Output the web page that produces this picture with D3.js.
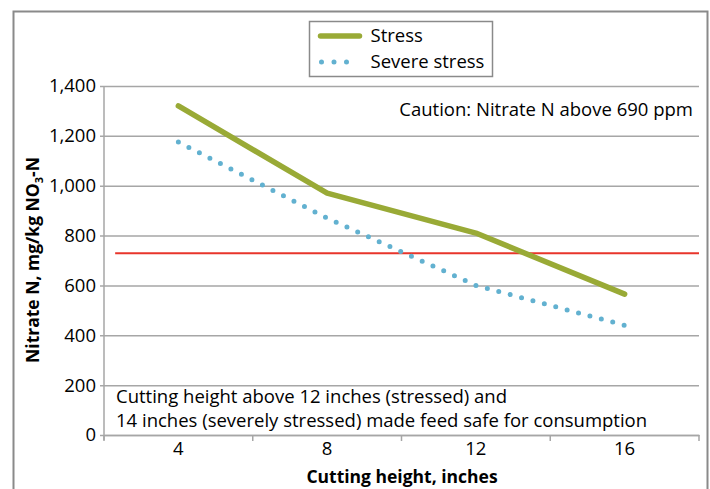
<!DOCTYPE html>
<html>
<head>
<meta charset="utf-8">
<script src="https://cdn.jsdelivr.net/npm/d3@7"></script>
<style>
  body { margin: 0; background: #fff; }
  svg text { font-family: "Open Sans", sans-serif; fill: #000; }
  .axis-label { font-weight: bold; font-size: 17.5px; }
  .tick text { font-size: 18.5px; }
</style>
</head>
<body>
<svg class="chart"></svg>
<script>
// data
const heights = ["4", "8", "12", "16"]
const stress = [1320, 970, 810, 565]
const severeStress = [1175, 870, 600, 440]
const cautionLevel = 729
const yTicks = [0, 200, 400, 600, 800, 1000, 1200, 1400]

const width = 710, height = 489
const margin = {top: 86, right: 11, bottom: 54, left: 104}
const plotW = width - margin.left - margin.right
const plotH = height - margin.top - margin.bottom

const svg = d3.select(".chart")
    .attr("width", width)
    .attr("height", height)

// outer frame (left, top, right)
svg.append("path")
    .attr("d", "M13.5,489 V11.5 H707.5 V489")
    .attr("fill", "none")
    .attr("stroke", "#8a8a8a")
    .attr("stroke-width", 2)

const xScale = d3.scaleBand()
    .domain(heights)
    .range([0, plotW])

const yScale = d3.scaleLinear()
    .domain([0, 1400])
    .range([plotH, 0])

const graph = svg.append("g")
    .attr("transform", `translate(${margin.left},${margin.top})`)

// y axis + gridlines
const yAxis = graph.append("g")
    .attr("class", "y axis")
    .call(d3.axisLeft(yScale)
        .tickValues(yTicks)
        .tickSize(-plotW)
        .tickPadding(8)
        .tickFormat(d3.format(",")))
yAxis.select(".domain").remove()
yAxis.selectAll(".tick line")
    .attr("x1", -4)
    .attr("stroke", "#a6a6a6")
    .attr("stroke-width", 1.5)

graph.append("line")
    .attr("x1", 0).attr("x2", 0)
    .attr("y1", yScale(1400)).attr("y2", plotH + 5)
    .attr("stroke", "#a6a6a6")
    .attr("stroke-width", 1.5)

// x axis
const xAxis = graph.append("g")
    .attr("class", "x axis")
    .attr("transform", `translate(0,${plotH})`)
    .call(d3.axisBottom(xScale).tickSize(0).tickPadding(7))
xAxis.select(".domain").attr("stroke", "#a6a6a6").attr("stroke-width", 1.5)

const bounds = heights.map(d => xScale(d)).concat([xScale.range()[1]])
xAxis.selectAll(".bound")
    .data(bounds)
    .join("line")
    .attr("class", "bound")
    .attr("x1", d => d).attr("x2", d => d)
    .attr("y1", 0).attr("y2", 6)
    .attr("stroke", "#a6a6a6")
    .attr("stroke-width", 1.5)

// caution threshold
graph.append("line")
    .attr("x1", xScale.bandwidth() * 0.075)
    .attr("x2", plotW)
    .attr("y1", yScale(cautionLevel))
    .attr("y2", yScale(cautionLevel))
    .attr("stroke", "#e8352b")
    .attr("stroke-width", 2)

const xc = d => xScale(d) + xScale.bandwidth() / 2
const line = d3.line()
    .x(d => xc(d.h))
    .y(d => yScale(d.v))

graph.append("path")
    .datum(heights.map((h, i) => ({h: h, v: severeStress[i]})))
    .attr("d", line)
    .attr("fill", "none")
    .attr("stroke", "#62b1d0")
    .attr("stroke-width", 5)
    .attr("stroke-linecap", "round")
    .attr("stroke-dasharray", "0,11.8")

graph.append("path")
    .datum(heights.map((h, i) => ({h: h, v: stress[i]})))
    .attr("d", line)
    .attr("fill", "none")
    .attr("stroke", "#99aa36")
    .attr("stroke-width", 5.5)
    .attr("stroke-linecap", "round")
    .attr("stroke-linejoin", "round")

// annotations
svg.append("text")
    .text("Caution: Nitrate N above 690 ppm")
    .attr("x", 693).attr("y", 116)
    .attr("text-anchor", "end")
    .style("font-size", "18.5px")

const note = svg.append("text")
    .attr("x", 116).attr("y", 403)
    .style("font-size", "18.5px")
note.append("tspan").text("Cutting height above 12 inches (stressed) and")
note.append("tspan").attr("x", 116).attr("dy", 24)
    .text("14 inches (severely stressed) made feed safe for consumption")

// axis titles
svg.append("text")
    .attr("class", "axis-label")
    .attr("text-anchor", "middle")
    .attr("x", 402).attr("y", 483)
    .text("Cutting height, inches")

const yTitle = svg.append("text")
    .attr("class", "axis-label")
    .attr("text-anchor", "middle")
    .attr("transform", "translate(39, 260) rotate(-90)")
yTitle.append("tspan").text("Nitrate N, mg/kg NO")
yTitle.append("tspan").text("3").attr("dy", 4).style("font-size", "11px")
yTitle.append("tspan").text("-N").attr("dy", -4)

// legend
const legend = svg.append("g").attr("transform", "translate(309.5,21.5)")
legend.append("rect")
    .attr("width", 183).attr("height", 55)
    .attr("fill", "#fff")
    .attr("stroke", "#8a8a8a")
    .attr("stroke-width", 1.5)
legend.append("line")
    .attr("x1", 11).attr("x2", 50).attr("y1", 14.5).attr("y2", 14.5)
    .attr("stroke", "#99aa36").attr("stroke-width", 5.5)
    .attr("stroke-linecap", "round")
legend.append("line")
    .attr("x1", 12).attr("x2", 40).attr("y1", 40.5).attr("y2", 40.5)
    .attr("stroke", "#62b1d0").attr("stroke-width", 5)
    .attr("stroke-linecap", "round")
    .attr("stroke-dasharray", "0,12.5")
legend.append("text").text("Stress")
    .attr("x", 61).attr("y", 20).style("font-size", "18.5px")
legend.append("text").text("Severe stress")
    .attr("x", 61).attr("y", 46).style("font-size", "18.5px")
</script>
</body>
</html>
